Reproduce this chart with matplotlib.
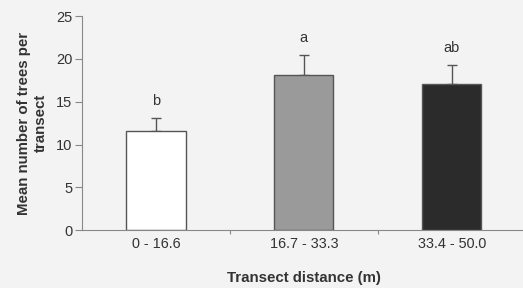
import numpy as np
import matplotlib
matplotlib.use("Agg")
import matplotlib.pyplot as plt

categories = ["0 - 16.6", "16.7 - 33.3", "33.4 - 50.0"]
means = [11.6, 18.1, 17.1]
errors = [1.5, 2.4, 2.2]
letters = ["b", "a", "ab"]
colors = ["white", "#9a9a9a", "#2b2b2b"]

plt.rcParams["font.family"] = ["Liberation Sans", "DejaVu Sans"]

fig = plt.figure(figsize=(5.23, 2.88), dpi=100)
fig.patch.set_facecolor("#f3f3f3")
ax = fig.add_axes([0.157, 0.201, 0.848, 0.743])
ax.set_facecolor("#f3f3f3")

x = np.arange(len(categories))
ax.bar(x, means, width=0.4, color=colors, edgecolor="#555555", linewidth=1.0, zorder=2)
ax.errorbar(x, means, yerr=[np.zeros(len(x)), errors], fmt="none",
            ecolor="#555555", elinewidth=1.0, capsize=3.3, capthick=1.0, zorder=1)

# significance letters above the error bars
for xi, m, e, t in zip(x, means, errors, letters):
    ax.annotate(t, (xi, m + e), xytext=(0, 7), textcoords="offset points",
                ha="center", va="bottom", fontsize=10.5, color="#333333")

ax.set_xlim(-0.5, 2.5)
ax.set_ylim(0, 25)
ax.set_yticks([0, 5, 10, 15, 20, 25])
ax.set_xticks([0.5, 1.5], minor=False)
ax.set_xticks(x, minor=True)
ax.set_xticklabels(["", ""])
ax.set_xticklabels(categories, minor=True)
ax.tick_params(axis="x", which="major", length=3, color="#888888")
ax.tick_params(axis="x", which="minor", length=0, pad=5, labelsize=10.4, labelcolor="#333333")
ax.tick_params(axis="y", length=5, pad=2, color="#888888", labelsize=10.5, labelcolor="#333333")

for s in ["top", "right"]:
    ax.spines[s].set_visible(False)
for s in ["left", "bottom"]:
    ax.spines[s].set_color("#888888")

ax.set_ylabel("Mean number of trees per\ntransect", fontsize=10.8, fontweight="bold",
              color="#333333", labelpad=6)
ax.set_xlabel("Transect distance (m)", fontsize=10.8, fontweight="bold",
              color="#333333", labelpad=14)

fig.savefig("out.png", dpi=100, facecolor=fig.get_facecolor())
